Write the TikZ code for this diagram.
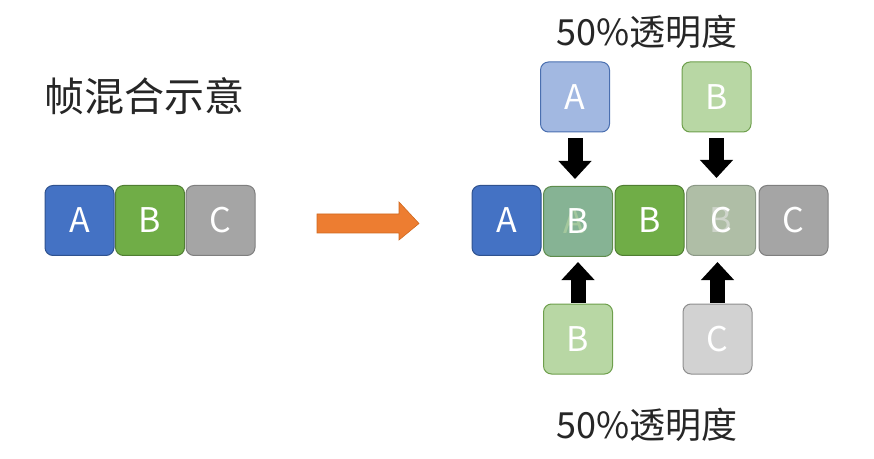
\documentclass[tikz,border=0pt]{standalone}
\usepackage{fontspec}
\newfontfamily\cjk{Noto Sans CJK SC}
\usetikzlibrary{positioning,arrows.meta}
\definecolor{blueF}{HTML}{4472C4}
\definecolor{blueD}{HTML}{2F528F}
\definecolor{greenF}{HTML}{70AD47}
\definecolor{greenD}{HTML}{507E32}
\definecolor{grayF}{HTML}{A5A5A5}
\definecolor{grayD}{HTML}{7F7F7F}
\definecolor{blueL}{HTML}{A2B8E1}
\definecolor{blueLD}{HTML}{4A6FB0}
\definecolor{greenL}{HTML}{B8D7A4}
\definecolor{greenLD}{HTML}{6E9F4C}
\definecolor{grayL}{HTML}{D2D2D2}
\definecolor{grayLD}{HTML}{8E8E8E}
\definecolor{mixAB}{HTML}{86B394}
\definecolor{mixABD}{HTML}{5E8C4C}
\definecolor{mixBC}{HTML}{AFBEA6}
\definecolor{mixBCD}{HTML}{8B9886}
\definecolor{arrowO}{HTML}{ED7D31}
\definecolor{arrowOD}{HTML}{D0691F}
\tikzset{
  frame/.style={rounded corners=8pt,minimum width=69pt,minimum height=70pt,
    line width=1pt,text=white,inner sep=0pt,font=\cjk\fontsize{34}{34}\selectfont},
  boxA/.style={frame,fill=blueF,draw=blueD},
  boxB/.style={frame,fill=greenF,draw=greenD},
  boxC/.style={frame,fill=grayF,draw=grayD},
  boxAl/.style={frame,fill=blueL,draw=blueLD},
  boxBl/.style={frame,fill=greenL,draw=greenLD},
  boxCl/.style={frame,fill=grayL,draw=grayLD},
  boxAB/.style={frame,fill=mixAB,draw=mixABD},
  boxBC/.style={frame,fill=mixBC,draw=mixBCD},
  ghost/.style={text opacity=0.6,inner sep=0pt,font=\cjk\fontsize{34}{34}\selectfont},
  caption/.style={font=\cjk\fontsize{36}{36}\selectfont,text=black!85},
  fat/.style={line width=15pt,-{Triangle[width=32pt,length=18pt]}}
}
\begin{document}
\begin{tikzpicture}[x=1pt,y=1pt]
  \useasboundingbox (0,0) rectangle (874,458);
  \node[caption,anchor=west,font=\cjk\fontsize{40}{40}\selectfont] (title) at (41,362) {帧混合示意};

  % left row
  \node[boxA] (lA) at (79.5,237.5) {A};
  \node[boxB,right=0.5pt of lA] (lB) {B};
  \node[boxC,right=0.5pt of lB] (lC) {C};

  \fill[arrowO,draw=arrowOD,line width=0.6pt] (317,244) -- (399,244) -- (399,256) -- (419,234.5)
    -- (399,218) -- (399,225) -- (317,225) -- cycle;

  % blended row
  \node[boxA] (rA) at (506.5,237.5) {A};
  \node[boxAB,right=1.5pt of rA,yshift=-1pt] (rAB) {};
  \node[ghost,text=greenL,xshift=-4pt] at (rAB) {A};
  \node[text=white,inner sep=0pt,font=\cjk\fontsize{34}{34}\selectfont] at (rAB) {B};
  \node[boxB,right=1.5pt of rAB,yshift=1pt] (rB) {B};
  \node[boxBC,right=1.5pt of rB] (rBC) {};
  \node[ghost,text=white!90!black] at (rBC) {B};
  \node[text=white,inner sep=0pt,font=\cjk\fontsize{34}{34}\selectfont] at (rBC) {C};
  \node[boxC,right=2.5pt of rBC] (rC) {C};

  % 50% layers
  \node[caption] (topcap) at (647,426) {50\%透明度};
  \node[boxAl] (tA) at (575,361) {A};
  \node[boxBl] (tB) at (716.5,361) {B};
  \node[boxBl] (bB) at (578,119) {B};
  \node[boxCl] (bC) at (717.5,119) {C};
  \node[caption] (botcap) at (647,33) {50\%透明度};

  \draw[fat] ([yshift=-6pt]tA.south) -- ([yshift=7pt]tA.south |- rAB.north);
  \draw[fat] ([yshift=-6pt]tB.south) -- ([yshift=7pt]tB.south |- rBC.north);
  \draw[fat] ([yshift=1pt]bB.north) -- ([yshift=-5pt]bB.north |- rAB.south);
  \draw[fat] ([yshift=1pt]bC.north) -- ([yshift=-6pt]bC.north |- rBC.south);
\end{tikzpicture}
\end{document}
